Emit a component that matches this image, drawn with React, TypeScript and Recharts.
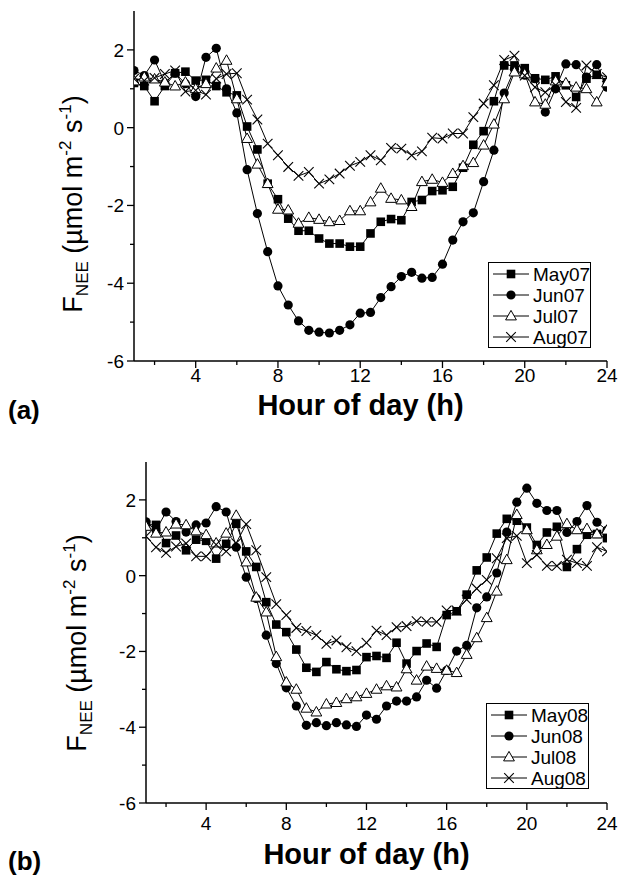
import React from 'react';
import { LineChart, Line, XAxis, YAxis, Legend, Label } from 'recharts';

const hours = [1, 1.5, 2, 2.5, 3, 3.5, 4, 4.5, 5, 5.5, 6, 6.5, 7, 7.5, 8, 8.5, 9, 9.5, 10, 10.5, 11, 11.5, 12, 12.5, 13, 13.5, 14, 14.5, 15, 15.5, 16, 16.5, 17, 17.5, 18, 18.5, 19, 19.5, 20, 20.5, 21, 21.5, 22, 22.5, 23, 23.5, 24];

const may07 = [1.15, 1.07, 0.68, 1.07, 1.40, 1.44, 1.21, 1.23, 1.07, 0.91, 0.83, 0.03, -0.56, -1.44, -1.84, -2.34, -2.65, -2.65, -2.85, -2.98, -2.98, -3.06, -3.06, -2.72, -2.42, -2.35, -2.38, -1.91, -1.86, -1.63, -1.61, -1.52, -1.03, -0.44, -0.09, 0.68, 1.60, 1.60, 1.53, 1.27, 1.23, 1.32, 1.09, 0.79, 1.26, 1.36, 1.17];
const jun07 = [1.47, 1.34, 1.74, 1.15, 1.40, 1.13, 0.80, 1.81, 2.04, 1.00, 0.38, -1.08, -2.21, -3.19, -4.07, -4.56, -4.97, -5.21, -5.26, -5.28, -5.21, -5.07, -4.77, -4.75, -4.37, -4.09, -3.83, -3.72, -3.87, -3.85, -3.51, -2.89, -2.42, -2.19, -1.39, -0.58, 0.89, 1.50, 1.35, 1.26, 0.40, 1.00, 1.64, 1.62, 1.30, 1.62, 1.04];
const jul07 = [1.20, 1.30, 1.25, 1.17, 1.07, 1.17, 1.00, 1.13, 1.53, 1.73, 0.74, -0.28, -0.94, -1.44, -2.10, -2.12, -2.46, -2.31, -2.36, -2.42, -2.39, -2.14, -2.14, -1.91, -1.56, -1.82, -1.86, -2.03, -1.39, -1.33, -1.41, -1.18, -0.98, -0.90, -0.45, 0.09, 0.74, 1.43, 1.38, 0.66, 0.60, 1.20, 1.15, 1.04, 1.00, 0.66, 1.15];
const aug07 = [1.26, 1.21, 1.28, 1.38, 1.47, 0.93, 0.96, 0.85, 1.26, 1.38, 1.40, 0.72, 0.21, -0.41, -0.71, -1.01, -1.24, -1.14, -1.44, -1.33, -1.18, -0.98, -0.88, -0.71, -0.84, -0.52, -0.54, -0.71, -0.61, -0.26, -0.28, -0.15, -0.15, 0.27, 0.62, 1.09, 1.74, 1.85, 1.34, 1.04, 0.91, 1.09, 0.66, 0.51, 1.60, 1.38, 1.30];

const may08 = [1.35, 1.34, 0.86, 1.06, 0.67, 0.95, 0.92, 0.45, 0.84, 1.37, 0.64, 0.23, -0.70, -1.29, -1.49, -1.95, -2.43, -2.54, -2.28, -2.47, -2.52, -2.49, -2.15, -2.12, -2.17, -1.77, -2.32, -1.99, -1.79, -1.88, -1.04, -0.94, -0.50, 0.14, 0.48, 1.11, 1.50, 1.45, 1.27, 0.81, 1.14, 1.29, 0.23, 0.70, 1.08, 1.10, 0.99];
const jun08 = [1.42, 1.20, 1.68, 1.43, 1.15, 1.34, 1.39, 1.82, 1.68, 0.75, -0.04, -0.60, -1.57, -2.32, -2.96, -3.44, -3.95, -3.88, -3.96, -3.88, -3.94, -3.98, -3.68, -3.79, -3.44, -3.31, -3.31, -3.20, -2.76, -2.97, -2.50, -1.99, -1.84, -0.85, -0.56, 0.07, 1.15, 1.94, 2.31, 1.91, 1.72, 1.72, 1.14, 1.43, 1.85, 1.41, 1.20];
const jul08 = [1.30, 1.12, 1.15, 1.36, 1.34, 1.18, 1.08, 0.86, 1.12, 1.59, 0.36, -0.57, -0.96, -2.14, -2.81, -3.00, -3.50, -3.60, -3.39, -3.35, -3.25, -3.20, -3.11, -3.00, -2.91, -2.94, -2.46, -2.76, -2.39, -2.45, -2.50, -2.56, -2.08, -1.64, -1.11, -0.41, 0.42, 1.61, 1.21, 0.68, 0.82, 1.04, 1.37, 1.21, 1.24, 1.10, 1.20];
const aug08 = [1.04, 0.75, 0.60, 0.77, 0.85, 0.51, 0.51, 0.82, 0.64, 0.86, 1.36, 0.67, -0.04, -0.75, -1.04, -1.38, -1.46, -1.57, -1.80, -1.71, -1.89, -1.99, -1.77, -1.45, -1.57, -1.36, -1.33, -1.20, -1.22, -1.22, -0.92, -0.92, -0.63, -0.34, -0.11, 0.46, 0.99, 1.05, 0.33, 0.55, 0.26, 0.26, 0.42, 0.33, 0.26, 0.75, 0.64];

const names07 = ['May07', 'Jun07', 'Jul07', 'Aug07'];
const names08 = ['May08', 'Jun08', 'Jul08', 'Aug08'];
const markers = ['square', 'circle', 'triangle', 'cross'];

const xTicks = [2, 4, 6, 8, 10, 12, 14, 16, 18, 20, 22, 24];
const yTicks = [-6, -5, -4, -3, -2, -1, 0, 1, 2, 3];

const FONT = '"Liberation Sans", Arial, sans-serif';

const rows07 = hours.map((h, i) => ({ h, s0: may07[i], s1: jun07[i], s2: jul07[i], s3: aug07[i] }));
const rows08 = hours.map((h, i) => ({ h, s0: may08[i], s1: jun08[i], s2: jul08[i], s3: aug08[i] }));

function Marker({ type, cx, cy }: { type: string; cx: number; cy: number }) {
  if (type === 'square') {
    return <rect x={cx - 4.3} y={cy - 4.3} width={8.6} height={8.6} fill="#000" />;
  }
  if (type === 'circle') {
    return <circle cx={cx} cy={cy} r={4.6} fill="#000" />;
  }
  if (type === 'triangle') {
    return (
      <polygon
        points={`${cx},${cy - 5.6} ${cx - 5.4},${cy + 3.9} ${cx + 5.4},${cy + 3.9}`}
        fill="#fff"
        stroke="#000"
        strokeWidth={1}
      />
    );
  }
  return (
    <g stroke="#000" strokeWidth={1.1}>
      <line x1={cx - 4.8} y1={cy - 4.8} x2={cx + 4.8} y2={cy + 4.8} />
      <line x1={cx - 4.8} y1={cy + 4.8} x2={cx + 4.8} y2={cy - 4.8} />
    </g>
  );
}

const makeDot = (type: string) => (props: any) => {
  const { cx, cy, index } = props;
  if (cx == null || cy == null) return <g key={`d-${type}-${index}`} />;
  return (
    <g key={`d-${type}-${index}`}>
      <Marker type={type} cx={cx} cy={cy} />
    </g>
  );
};

const BottomTick = (props: any) => {
  const { x, y, payload, labelOffset } = props;
  const v = payload.value;
  const major = v % 4 === 0;
  return (
    <g>
      <line x1={x} y1={y} x2={x} y2={y + (major ? 7 : 4)} stroke="#000" strokeWidth={1.3} />
      {major && (
        <text x={x} y={y + labelOffset} textAnchor="middle" fontSize={19} fontFamily={FONT} fill="#000">
          {v}
        </text>
      )}
    </g>
  );
};

const TopTick = (props: any) => {
  const { x, y, payload } = props;
  const major = payload.value % 4 === 0;
  return <line x1={x} y1={y} x2={x} y2={y + (major ? 7 : 4)} stroke="#000" strokeWidth={1.3} />;
};

const LeftTick = (props: any) => {
  const { x, y, payload } = props;
  const v = payload.value;
  const major = v % 2 === 0;
  if (v === 3) return <g />;
  return (
    <g>
      <line x1={x} y1={y} x2={x - (major ? 7 : 4)} y2={y} stroke="#000" strokeWidth={1.3} />
      {major && (
        <text x={x - 10} y={y + 7} textAnchor="end" fontSize={19} fontFamily={FONT} fill="#000">
          {v}
        </text>
      )}
    </g>
  );
};

const RightTick = (props: any) => {
  const { x, y, payload } = props;
  const v = payload.value;
  if (v === 3) return <g />;
  const major = v % 2 === 0;
  return <line x1={x} y1={y} x2={x - (major ? 7 : 4)} y2={y} stroke="#000" strokeWidth={1.3} />;
};

function LegendBox({ names }: { names: string[] }) {
  return (
    <svg width={103} height={86} style={{ display: 'block' }}>
      <rect x={0.5} y={0.5} width={102} height={85} fill="#fff" stroke="#000" strokeWidth={1} />
      {names.map((n, i) => {
        const cy = 12 + i * 21;
        return (
          <g key={n}>
            <line x1={5} y1={cy} x2={41} y2={cy} stroke="#000" strokeWidth={1} />
            <Marker type={markers[i]} cx={23} cy={cy} />
            <text x={45} y={cy + 7} fontSize={19} fontFamily={FONT} fill="#000">
              {n}
            </text>
          </g>
        );
      })}
    </svg>
  );
}

function YTitle(props: any) {
  const { cx, cy } = props;
  return (
    <text
      x={cx}
      y={cy}
      transform={`rotate(-90, ${cx}, ${cy})`}
      textAnchor="middle"
      fontSize={27}
      fontFamily={FONT}
      fill="#000"
    >
      F
      <tspan fontSize={17} dy={6}>NEE</tspan>
      <tspan dy={-6}>{' (\u00b5mol m'}</tspan>
      <tspan fontSize={17} dy={-11}>-2</tspan>
      <tspan dy={11}>{' s'}</tspan>
      <tspan fontSize={17} dy={-11}>-1</tspan>
      <tspan dy={11}>)</tspan>
    </text>
  );
}

function Panel({
  rows,
  names,
  letter,
  leftW,
  height,
  topM,
  xAxisH,
  tickLabelOffset,
  titleOffset,
  letterOffset,
  yTitleX,
  yTitleY,
  legendLeft,
  legendTop,
}: any) {
  return (
    <LineChart
      width={619}
      height={height}
      data={rows}
      margin={{ top: topM, right: 12, bottom: 0, left: 0 }}
    >
      <XAxis
        dataKey="h"
        type="number"
        domain={[1, 24]}
        ticks={xTicks}
        interval={0}
        allowDataOverflow
        tickSize={0}
        tickMargin={0}
        height={xAxisH}
        axisLine={{ stroke: '#000', strokeWidth: 1.5 }}
        tickLine={false}
        tick={<BottomTick labelOffset={tickLabelOffset} />}
      >
        <Label
          content={(p: any) => {
            const vb = p.viewBox;
            return (
              <g>
                <text
                  x={vb.x + vb.width / 2 - 10}
                  y={vb.y + titleOffset}
                  textAnchor="middle"
                  fontSize={29}
                  fontWeight="bold"
                  fontFamily={FONT}
                  fill="#000"
                >
                  Hour of day (h)
                </text>
                <text x={8} y={vb.y + letterOffset} fontSize={26} fontWeight="bold" fontFamily={FONT} fill="#000">
                  {letter}
                </text>
              </g>
            );
          }}
        />
      </XAxis>
      <XAxis
        xAxisId="top"
        orientation="top"
        dataKey="h"
        type="number"
        domain={[1, 24]}
        ticks={xTicks}
        interval={0}
        allowDataOverflow
        tickSize={0}
        tickMargin={0}
        height={0}
        axisLine={{ stroke: '#000', strokeWidth: 1.5 }}
        tickLine={false}
        tick={<TopTick />}
      />
      <YAxis
        type="number"
        domain={[-6, 3]}
        ticks={yTicks}
        interval={0}
        allowDataOverflow
        tickSize={0}
        tickMargin={0}
        width={leftW}
        axisLine={{ stroke: '#000', strokeWidth: 1.5 }}
        tickLine={false}
        tick={<LeftTick />}
      >
        <Label content={() => <YTitle cx={yTitleX} cy={yTitleY} />} />
      </YAxis>
      <YAxis
        yAxisId="right"
        orientation="right"
        type="number"
        domain={[-6, 3]}
        ticks={yTicks}
        interval={0}
        allowDataOverflow
        tickSize={0}
        tickMargin={0}
        width={0}
        axisLine={{ stroke: '#000', strokeWidth: 1.5 }}
        tickLine={false}
        tick={<RightTick />}
      />
      {['s0', 's1', 's2', 's3'].map((k, i) => (
        <Line
          key={k}
          dataKey={k}
          name={names[i]}
          stroke="#000"
          strokeWidth={1}
          dot={makeDot(markers[i])}
          activeDot={false}
          isAnimationActive={false}
        />
      ))}
      <Legend
        layout="vertical"
        align="center"
        verticalAlign="middle"
        wrapperStyle={{ left: legendLeft, top: legendTop, width: 103, height: 86 }}
        content={() => <LegendBox names={names} />}
      />
    </LineChart>
  );
}

export default function App() {
  return (
    <div style={{ position: 'absolute', left: 0, top: 0, width: 619, height: 883, background: '#fff' }}>
      <div style={{ position: 'absolute', left: 0, top: 0 }}>
        <Panel
          rows={rows07}
          names={names07}
          letter="(a)"
          leftW={134}
          height={440}
          topM={11}
          xAxisH={79}
          tickLabelOffset={21}
          titleOffset={54}
          letterOffset={58}
          yTitleX={82}
          yTitleY={204}
          legendLeft={488}
          legendTop={262}
        />
      </div>
      <div style={{ position: 'absolute', left: 0, top: 450 }}>
        <Panel
          rows={rows08}
          names={names08}
          letter="(b)"
          leftW={146}
          height={433}
          topM={12}
          xAxisH={80}
          tickLabelOffset={27}
          titleOffset={61}
          letterOffset={67}
          yTitleX={86}
          yTitleY={193}
          legendLeft={486}
          legendTop={253}
        />
      </div>
    </div>
  );
}
